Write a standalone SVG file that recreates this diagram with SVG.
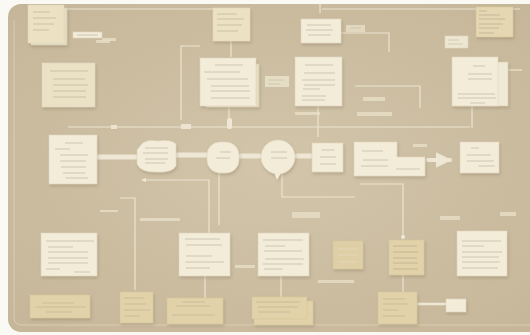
<svg xmlns="http://www.w3.org/2000/svg" width="530" height="335" viewBox="0 0 530 335">
<defs>
<style>
.bg{fill:#fbf9f4}
.note{fill:#f2ecd9;stroke:#e2d8bf;stroke-width:0.6}
.back{fill:#e6dcc2;stroke:#d8ccb0;stroke-width:0.6}
.tan{fill:#e2d2a9;stroke:#d6c59c;stroke-width:0.6}
.lbl{fill:#e9e0c9;opacity:0.75}
.t{stroke:#8d826e;stroke-width:0.7;opacity:0.5;fill:none}
.tf{stroke:#e8dfca;stroke-width:0.8;opacity:0.7;fill:none}
.c{stroke:#ece4d0;stroke-width:1.2;fill:none}
.thick{stroke:#eee7d5;stroke-width:5;fill:none;stroke-linecap:round}
</style>
<filter id="sh" x="-20%" y="-20%" width="140%" height="150%">
<feDropShadow dx="1" dy="2" stdDeviation="1.5" flood-color="#7a6a4e" flood-opacity="0.3"/>
</filter>
<marker id="ah" viewBox="0 0 10 10" refX="9" refY="5" markerWidth="4" markerHeight="4" orient="auto">
<path d="M0 0 L10 5 L0 10 z" fill="#eee7d5"/>
</marker>
<radialGradient id="vig" cx="50%" cy="50%" r="70%">
<stop offset="0" stop-color="#d2c5aa"/>
<stop offset="1" stop-color="#c6b699"/>
</radialGradient>
</defs>

<rect class="bg" x="0" y="0" width="530" height="335"/>
<rect x="8" y="4" width="540" height="328" rx="13" fill="url(#vig)"/>
<path d="M14 20 V318 Q14 325 22 325 H530" stroke="#d9cdb3" stroke-width="1" fill="none"/>

<g id="connectors">
<path class="c" d="M64 9 H213"/>
<path class="c" d="M320 3 V13"/>
<path class="c" d="M322 9 H520"/>
<path class="c" d="M231 41 V57"/>
<path class="c" d="M341 33 H389 V52"/>
<path class="c" d="M181 120 V46 H200"/>
<path class="c" d="M68 127 H470"/>
<rect x="111" y="125" width="6" height="4" fill="#ece4d0"/>
<rect x="181" y="124" width="10" height="5" fill="#ece4d0"/>
<rect x="227" y="118" width="5" height="11" rx="2" fill="#f0e9d6"/>
<path class="c" d="M229 107 V127"/>
<path class="c" d="M318 106 V137"/>
<path class="c" d="M355 86 H420 V108"/>
<path class="c" d="M472 106 V128"/>
<path class="c" d="M506 70 H522"/>
<path class="thick" d="M98 157 H136"/>
<path class="thick" d="M177 155 H206"/>
<path class="thick" d="M240 156 H259"/>
<path class="thick" d="M297 156 H311"/>
<path class="thick" d="M428 160 H450" style="stroke-width:4" marker-end="url(#ah)"/>
<path class="c" d="M219 173 V225"/>
<path class="c" d="M209 233 V180 H142" marker-end="url(#ah)"/>
<path class="c" d="M120 198 H135 V290"/>
<path class="c" d="M282 173 V197 H355"/>
<path class="c" d="M360 184 H403 V237"/>
<circle cx="403" cy="237" r="2" fill="#efe8d5"/>
<path class="c" d="M281 276 V298"/>
<path class="c" d="M403 275 V292"/>
<path class="c" d="M205 276 V298"/>
<path class="thick" d="M417 304 H446" style="stroke-width:2.5"/>
</g>

<g id="faint-labels">
<rect class="lbl" x="96" y="40" width="14" height="3"/>
<rect class="lbl" x="102" y="38" width="14" height="3" opacity="0.4"/>
<rect class="lbl" x="140" y="218" width="40" height="3" opacity="0.5"/>
<rect class="lbl" x="100" y="210" width="18" height="2" opacity="0.5"/>
<rect class="lbl" x="292" y="212" width="28" height="6" opacity="0.4"/>
<rect class="lbl" x="235" y="265" width="20" height="3" opacity="0.5"/>
<rect class="lbl" x="318" y="280" width="36" height="3" opacity="0.4"/>
<rect class="lbl" x="440" y="216" width="20" height="4" opacity="0.4"/>
<rect class="lbl" x="500" y="212" width="16" height="4" opacity="0.4"/>
<rect class="lbl" x="363" y="97" width="22" height="4" opacity="0.5"/>
<rect class="lbl" x="413" y="144" width="14" height="3" opacity="0.5"/>
<rect class="lbl" x="357" y="112" width="35" height="4" opacity="0.5"/>
<rect class="lbl" x="295" y="112" width="25" height="3" opacity="0.5"/>
</g>

<g id="n1" filter="url(#sh)">
<rect class="back" x="31" y="8" width="36" height="37"/>
<rect class="note" x="28" y="5" width="36" height="38" style="fill:#ece2c3"/>
<path class="t" d="M33 12 H50 M33 18 H56 M33 24 H54 M33 30 H49"/>
</g>
<g id="n2"><rect class="note" x="73" y="32" width="29" height="6"/><path class="t" d="M77 35 H98"/></g>
<g id="n3" filter="url(#sh)">
<rect class="note" x="213" y="8" width="37" height="33" style="fill:#ece2c3"/>
<path class="t" d="M217 14 H237 M217 19 H244 M217 25 H242 M217 31 H238"/>
</g>
<g id="n4" filter="url(#sh)">
<rect class="note" x="301" y="19" width="40" height="24"/>
<path class="t" d="M307 25 H331 M306 30 H333 M308 35 H331"/>
</g>
<g id="n5"><rect class="lbl" x="346" y="25" width="19" height="7"/><path class="t" d="M350 28 H361" style="opacity:0.3"/></g>
<g id="n6" filter="url(#sh)">
<rect class="tan" x="476" y="7" width="37" height="30" style="fill:#e5d7b2"/>
<path class="t" d="M479 11 H487 M479 15 H500 M479 19 H505 M479 24 H503 M479 28 H499 M479 33 H494"/>
</g>
<g id="n7"><rect class="note" x="445" y="36" width="23" height="12" style="fill:#ede6d0"/><path class="t" d="M448 40 H459 M448 44 H463" style="opacity:0.4"/></g>

<g id="n8" filter="url(#sh)">
<rect class="note" x="42" y="63" width="53" height="44" style="fill:#ebe2c6"/>
<path class="t" d="M50 71 H88 M53 79 H85 M53 85 H88 M53 91 H86 M53 97 H86"/>
</g>
<g id="n9" filter="url(#sh)">
<rect class="back" x="206" y="64" width="53" height="43"/>
<rect class="note" x="200" y="58" width="56" height="48"/>
<path class="t" d="M215 65 H243 M204 72 H240 M207 79 H248 M211 86 H249 M211 91 H250 M211 98 H250"/>
</g>
<g id="n10" filter="url(#sh)">
<rect class="note" x="295" y="57" width="47" height="49"/>
<path class="t" d="M305 65 H333 M304 73 H335 M302 80 H335 M304 85 H335 M303 89 H320 M302 96 H326 M302 100 H325"/>
</g>
<g id="n11"><rect class="lbl" x="265" y="76" width="24" height="11" style="opacity:0.9"/><path class="t" d="M268 80 H284 M268 84 H280" style="opacity:0.35"/></g>
<g id="n12" filter="url(#sh)">
<rect class="back" x="456" y="62" width="52" height="44" style="fill:#efe9d7"/>
<rect class="note" x="452" y="57" width="46" height="49"/>
<path class="t" d="M473 66 H485 M468 74 H492 M468 79 H492 M458 94 H495 M458 98 H496 M470 103 H485"/>
</g>

<g id="n13" filter="url(#sh)">
<rect class="note" x="49" y="135" width="48" height="49"/>
<path class="t" d="M65 143 H83 M55 149 H70 M60 155 H88 M60 161 H86 M61 167 H86 M63 173 H85 M66 178 H88"/>
</g>
<g id="n14" filter="url(#sh)">
<path class="note" d="M141 145 Q145 139 158 141 Q171 139 176 144 V166 Q172 173 157 172 Q141 173 137 164 V150 Z"/>
<path class="t" d="M145 148 H168 M143 153 H168 M145 159 H168 M145 163 H165"/>
</g>
<g id="n15" filter="url(#sh)">
<rect class="note" x="207" y="142" width="32" height="31" rx="13"/>
<path class="t" d="M220 152 H231 M216 158 H230"/>
</g>
<g id="n16" filter="url(#sh)">
<circle class="note" cx="278" cy="157" r="17"/>
<path d="M274 172 L277 180 L281 173 Z" fill="#f2ecd9"/>
<path class="t" d="M271 152 H287 M271 158 H287"/>
</g>
<g id="n17" filter="url(#sh)">
<rect class="note" x="312" y="143" width="31" height="29"/>
<path class="t" d="M322 150 H334 M320 157 H336 M320 164 H336"/>
</g>
<g id="n18" filter="url(#sh)">
<path class="note" d="M354 142 H397 V157 H425 V176 H354 Z"/>
<path class="t" d="M362 151 H383 M363 160 H388 M361 166 H388 M396 169 H420"/>
</g>
<g id="n19" filter="url(#sh)">
<rect class="note" x="460" y="142" width="39" height="31"/>
<path class="t" d="M471 148 H479 M467 155 H491 M467 161 H494 M478 166 H495"/>
</g>

<g id="n20" filter="url(#sh)">
<rect class="note" x="41" y="233" width="56" height="43"/>
<path class="t" d="M46 241 H94 M48 247 H73 M48 252 H88 M48 258 H88 M48 263 H88 M46 269 H60 M74 272 H90"/>
</g>
<g id="n21" filter="url(#sh)">
<rect class="note" x="179" y="233" width="51" height="43"/>
<path class="t" d="M185 239 H220 M186 245 H222 M186 256 H212 M185 262 H224 M186 268 H210"/>
</g>
<g id="n22" filter="url(#sh)">
<rect class="note" x="258" y="233" width="51" height="43"/>
<path class="t" d="M263 240 H303 M265 246 H285 M264 251 H302 M265 259 H304 M263 264 H303 M264 269 H283"/>
</g>
<g id="n23" filter="url(#sh)">
<rect class="tan" x="333" y="241" width="30" height="28" style="fill:#dfcfa6"/>
<path class="tf" d="M338 249 H357 M338 255 H358 M338 262 H356"/>
</g>
<g id="n24" filter="url(#sh)">
<rect class="tan" x="389" y="240" width="35" height="35"/>
<path class="t" d="M393 246 H417 M393 252 H418 M393 258 H417 M393 263 H418 M393 269 H418"/>
</g>
<g id="n25" filter="url(#sh)">
<rect class="note" x="457" y="231" width="50" height="45"/>
<path class="t" d="M462 241 H501 M462 246 H484 M462 252 H502 M462 257 H499 M462 262 H500 M462 268 H498"/>
</g>

<g id="n26" filter="url(#sh)">
<rect class="tan" x="30" y="295" width="60" height="23"/>
<path class="t" d="M42 303 H74 M36 307 H86 M46 312 H72" style="opacity:0.35"/>
</g>
<g id="n27" filter="url(#sh)">
<rect class="tan" x="120" y="292" width="33" height="31"/>
<path class="t" d="M124 298 H144 M124 304 H146 M124 310 H150 M124 316 H140" style="opacity:0.4"/>
</g>
<g id="n28" filter="url(#sh)">
<rect class="tan" x="167" y="298" width="56" height="26"/>
<path class="t" d="M182 302 H205 M176 306 H210 M172 315 H215" style="opacity:0.4"/>
</g>
<g id="n29" filter="url(#sh)">
<rect class="tan" x="254" y="301" width="59" height="24"/>
<rect class="tan" x="252" y="297" width="55" height="22"/>
<path class="t" d="M256 302 H300 M258 307 H298 M258 312 H290" style="opacity:0.4"/>
</g>
<g id="n30" filter="url(#sh)">
<rect class="tan" x="378" y="292" width="39" height="32"/>
<path class="t" d="M383 299 H405 M383 304 H408 M383 310 H398 M383 316 H405" style="opacity:0.4"/>
</g>
<g id="n31" filter="url(#sh)">
<rect class="note" x="446" y="299" width="20" height="13"/>
</g>
</svg>
